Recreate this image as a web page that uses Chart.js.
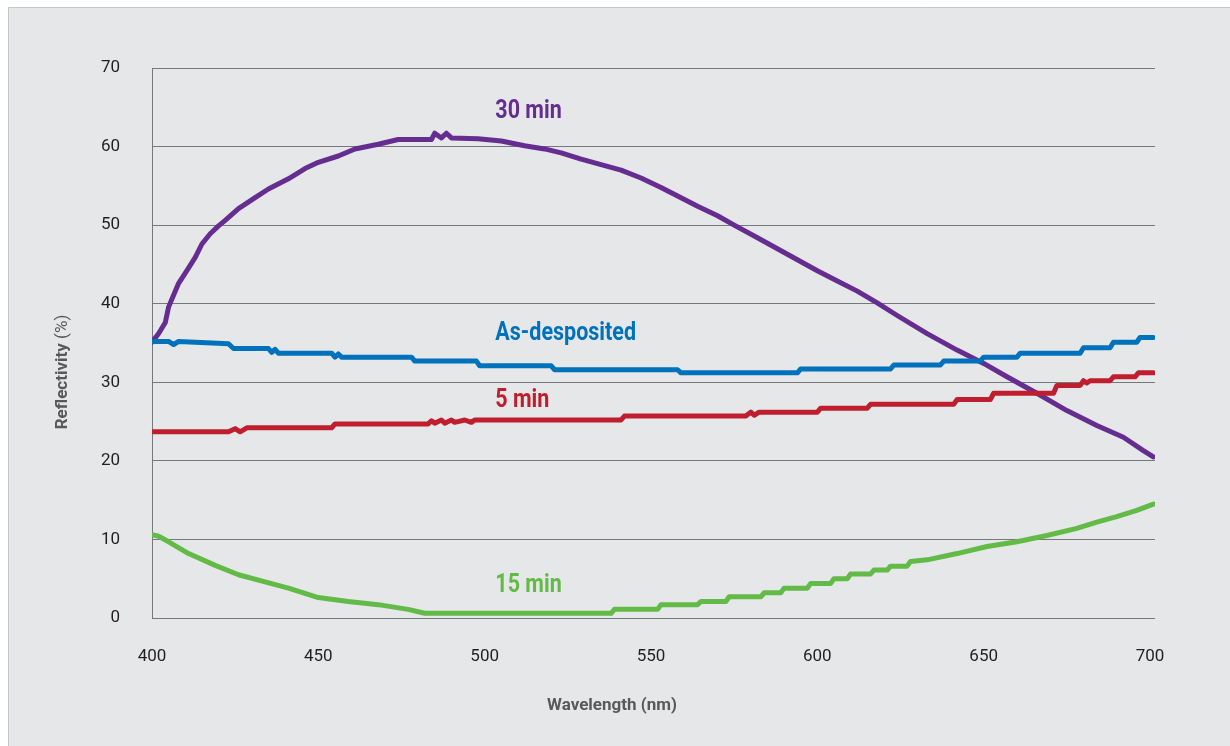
<!DOCTYPE html>
<html>
<head>
<meta charset="utf-8">
<script src="https://cdn.jsdelivr.net/npm/chart.js@4"></script>
<style>
  html, body { margin: 0; padding: 0; background: #fff; }
  #wrap { width: 1230px; height: 746px; }
</style>
</head>
<body>
<div id="wrap"><canvas id="reflChart" width="1230" height="746"></canvas></div>
<script>
// Reflectivity vs wavelength
const yTicks = [0, 10, 20, 30, 40, 50, 60, 70];
const xTicks = [400, 450, 500, 550, 600, 650, 700];

const min30Nm  = [400, 402, 404, 405, 408, 410, 413, 415, 417.5, 420, 422, 426, 431, 435, 441, 446, 450, 456, 461, 468, 474, 484, 485, 487, 488.5, 490, 498, 505, 512, 518, 523, 529, 535, 541, 547, 553, 558, 564, 570, 575, 582, 591, 600, 606, 612, 618, 624, 633, 642, 650, 657, 666, 675, 684, 692, 698, 701];
const min30Val = [35.1, 36.2, 37.6, 39.6, 42.6, 43.9, 45.9, 47.6, 48.9, 49.9, 50.6, 52.1, 53.5, 54.6, 55.9, 57.2, 58.0, 58.8, 59.7, 60.3, 60.9, 60.9, 61.7, 61.1, 61.7, 61.1, 61.0, 60.7, 60.1, 59.7, 59.2, 58.4, 57.7, 57.0, 56.0, 54.8, 53.7, 52.4, 51.2, 50.0, 48.4, 46.3, 44.2, 42.9, 41.6, 40.1, 38.5, 36.2, 34.1, 32.4, 30.7, 28.6, 26.4, 24.5, 23.0, 21.3, 20.5];

const asDepNm  = [400, 405, 406.5, 408, 423, 424.5, 435, 436, 437, 438, 454, 455, 456, 457, 478, 479, 497.5, 498.5, 520, 521, 558, 559, 594, 595, 622, 623, 637, 638, 649, 650, 660, 661, 679, 680, 688, 689, 696, 697, 701];
const asDepVal = [35.2, 35.2, 34.8, 35.2, 34.9, 34.3, 34.3, 33.8, 34.2, 33.7, 33.7, 33.2, 33.6, 33.2, 33.2, 32.7, 32.7, 32.1, 32.1, 31.6, 31.6, 31.2, 31.2, 31.7, 31.7, 32.2, 32.2, 32.7, 32.7, 33.2, 33.2, 33.7, 33.7, 34.4, 34.4, 35.1, 35.1, 35.7, 35.7];

const min5Nm  = [400, 423, 425, 426.5, 428.5, 454, 455, 483, 484, 485, 487, 488, 490, 491, 494, 496, 497, 541, 542, 578.5, 580, 581, 582.5, 600, 601, 615, 616, 641, 642, 652, 653, 671, 672, 679, 680, 681, 682, 688, 689, 695.5, 696.5, 701];
const min5Val = [23.7, 23.7, 24.1, 23.7, 24.2, 24.2, 24.7, 24.7, 25.1, 24.8, 25.2, 24.8, 25.2, 24.9, 25.2, 24.9, 25.2, 25.2, 25.7, 25.7, 26.2, 25.8, 26.2, 26.2, 26.7, 26.7, 27.2, 27.2, 27.8, 27.8, 28.6, 28.6, 29.6, 29.6, 30.2, 29.9, 30.2, 30.2, 30.7, 30.7, 31.2, 31.2];

const min15Nm  = [400, 402, 405, 411, 419, 426, 434, 441, 450, 459, 468, 477, 482, 538, 539, 552, 553, 564, 565, 572.5, 573.5, 583, 584, 589, 590, 597, 598, 604, 605, 609, 610, 616, 617, 621, 622, 627, 628, 633, 642, 651, 660, 669, 678, 684, 690, 696, 701];
const min15Val = [10.6, 10.4, 9.7, 8.2, 6.7, 5.5, 4.6, 3.8, 2.6, 2.1, 1.7, 1.1, 0.6, 0.6, 1.1, 1.1, 1.7, 1.7, 2.1, 2.1, 2.7, 2.7, 3.2, 3.2, 3.8, 3.8, 4.4, 4.4, 5.0, 5.0, 5.6, 5.6, 6.1, 6.1, 6.6, 6.6, 7.2, 7.4, 8.2, 9.1, 9.7, 10.5, 11.4, 12.2, 12.9, 13.7, 14.5];

// in-plot labels, placed in data coordinates
const seriesLabels = [
  { text: '30 min',        color: '#662d91', nm: 503.2, val: 64.4 },
  { text: 'As-desposited', color: '#0072bc', nm: 503.2, val: 36.2 },
  { text: '5 min',         color: '#be1e2d', nm: 503.2, val: 27.6 },
  { text: '15 min',        color: '#62bb46', nm: 503.2, val: 4.1 }
];

const FONT = "'Liberation Sans Narrow', 'Roboto', sans-serif";

function pts(nm, val) {
  return nm.map((x, i) => ({ x: x, y: val[i] }));
}

function line(label, nm, val, color) {
  return {
    label: label,
    data: pts(nm, val),
    borderColor: color,
    backgroundColor: color,
    borderWidth: 5,
    pointRadius: 0,
    tension: 0,
    borderCapStyle: 'round',
    borderJoinStyle: 'round'
  };
}

const panel = {
  id: 'panel',
  beforeDraw(chart) {
    const c = chart.ctx;
    c.save();
    c.fillStyle = '#ffffff';
    c.fillRect(0, 0, chart.width, chart.height);
    c.fillStyle = '#e6e7e8';
    c.fillRect(8, 7, chart.width, chart.height);
    c.strokeStyle = '#c4c5c7';
    c.lineWidth = 1;
    c.beginPath();
    c.moveTo(8.5, chart.height);
    c.lineTo(8.5, 7.5);
    c.lineTo(chart.width, 7.5);
    c.stroke();
    c.restore();
  }
};

// condensed look: squeeze text horizontally
function narrowText(c, text, x, y, sx) {
  c.save();
  c.translate(x, y);
  c.scale(sx, 1);
  c.fillText(text, 0, 0);
  c.restore();
}

const texts = {
  id: 'texts',
  afterDatasetsDraw(chart) {
    const c = chart.ctx;
    const xs = chart.scales.x, ys = chart.scales.y;
    c.save();
    c.font = 'bold 25px ' + FONT;
    c.textAlign = 'left';
    c.textBaseline = 'middle';
    seriesLabels.forEach(l => {
      c.fillStyle = l.color;
      narrowText(c, l.text, xs.getPixelForValue(l.nm), ys.getPixelForValue(l.val), 0.86);
    });

    // axis titles
    c.fillStyle = '#58595b';
    c.font = 'bold 17px ' + FONT;
    c.textAlign = 'center';
    c.fillText('Wavelength (nm)', 612, 706);

    c.translate(63, 372);
    c.rotate(-Math.PI / 2);
    c.textAlign = 'left';
    const a = 'Reflectivity', b = ' (%)';
    c.font = 'bold 17px ' + FONT;
    const wa = c.measureText(a).width;
    c.font = '17px ' + FONT;
    const wb = c.measureText(b).width;
    const x0 = -(wa + wb) / 2;
    c.font = 'bold 17px ' + FONT;
    c.fillText(a, x0, 0);
    c.font = '17px ' + FONT;
    c.fillText(b, x0 + wa, 0);
    c.restore();
  }
};

const ctx = document.getElementById('reflChart');
new Chart(ctx, {
  type: 'line',
  data: {
    datasets: [
      line('As-desposited', asDepNm, asDepVal, '#0072bc'),
      line('5 min', min5Nm, min5Val, '#be1e2d'),
      line('15 min', min15Nm, min15Val, '#62bb46'),
      line('30 min', min30Nm, min30Val, '#662d91')
    ]
  },
  options: {
    responsive: false,
    animation: false,
    events: [],
    layout: { padding: { left: 0, right: 75, top: 68, bottom: 0 } },
    plugins: { legend: { display: false }, tooltip: { enabled: false } },
    scales: {
      x: {
        type: 'linear',
        min: 400,
        max: 701.5,
        afterFit(s) { s.height = 128; },
        afterBuildTicks(s) { s.ticks = xTicks.map(v => ({ value: v })); },
        grid: { display: false, drawTicks: false },
        border: { display: false },
        ticks: { color: '#231f20', font: { family: FONT, size: 17 }, padding: 29, maxRotation: 0 }
      },
      y: {
        min: 0,
        max: 70,
        afterFit(s) { s.width = 152; },
        afterBuildTicks(s) { s.ticks = yTicks.map(v => ({ value: v })); },
        grid: { color: '#77787b', lineWidth: 1, drawTicks: false },
        border: { display: true, color: '#77787b', width: 1 },
        ticks: { color: '#231f20', font: { family: FONT, size: 17 }, padding: 32 }
      }
    }
  },
  plugins: [panel, texts]
});
</script>
</body>
</html>
